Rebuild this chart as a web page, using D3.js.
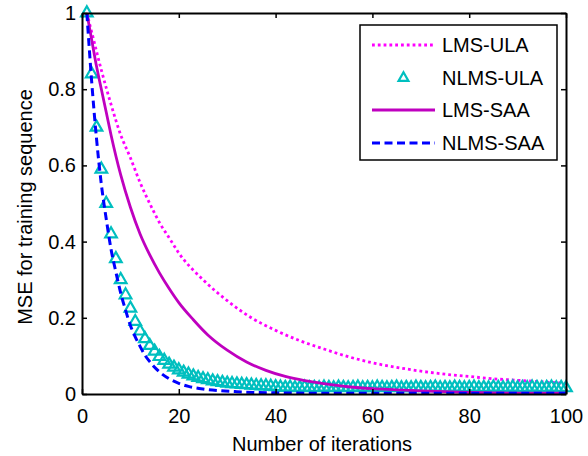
<!DOCTYPE html>
<html>
<head>
<meta charset="utf-8">
<script src="https://cdn.jsdelivr.net/npm/d3@7"></script>
<style>
  body { margin: 0; background: #fff; }
  svg { display: block; font-family: Arial, "Liberation Sans", sans-serif; }
</style>
</head>
<body>
<svg id="chart" width="588" height="456"></svg>
<script>
// LMS-ULA (read at sample iterations)
const lmsUlaIter = [1, 2, 4, 6, 8, 10, 12, 14, 16, 18, 20, 25, 30, 35, 40, 45, 50, 55, 60, 65, 70, 75, 80, 85, 90, 95, 100];
const lmsUla = [1.0, 0.95, 0.85, 0.76, 0.68, 0.62, 0.555, 0.5, 0.45, 0.41, 0.37, 0.3, 0.245, 0.2, 0.167, 0.14, 0.118, 0.098, 0.082, 0.07, 0.06, 0.052, 0.046, 0.04, 0.036, 0.032, 0.028];

// LMS-SAA
const lmsSaaIter = [1, 2, 3, 4, 5, 6, 8, 10, 12, 14, 16, 18, 20, 23, 26, 30, 34, 38, 42, 46, 50, 55, 60, 65, 70, 75, 80, 85, 90, 100];
const lmsSaa = [1.0, 0.93, 0.86, 0.8, 0.74, 0.68, 0.575, 0.49, 0.42, 0.365, 0.318, 0.277, 0.24, 0.195, 0.155, 0.115, 0.084, 0.062, 0.046, 0.035, 0.027, 0.019, 0.014, 0.011, 0.008, 0.006, 0.004, 0.003, 0.002, 0.002];

// NLMS-SAA
const nlmsSaaIter = [1, 2, 3, 4, 5, 6, 7, 8, 9, 10, 11, 12, 13, 14, 15, 16, 18, 20, 22, 25, 28, 32, 36, 40, 50, 60, 70, 80, 90, 100];
const nlmsSaa = [1.0, 0.82, 0.67, 0.55, 0.46, 0.38, 0.32, 0.265, 0.22, 0.18, 0.15, 0.125, 0.102, 0.085, 0.07, 0.058, 0.04, 0.028, 0.02, 0.013, 0.009, 0.006, 0.004, 0.003, 0.002, 0.002, 0.002, 0.002, 0.002, 0.002];

// NLMS-ULA, one marker per iteration 1..100
const nlmsUla = [
  1.0, 0.84, 0.70, 0.59, 0.50, 0.42, 0.355, 0.30, 0.26, 0.225,
  0.19, 0.165, 0.145, 0.127, 0.112, 0.098, 0.088, 0.078, 0.07, 0.063,
  0.057, 0.052, 0.047, 0.043, 0.04, 0.037, 0.034, 0.032, 0.03, 0.028,
  0.027, 0.026, 0.025, 0.024, 0.023, 0.022, 0.021, 0.021, 0.02, 0.019,
  0.018, 0.017, 0.018, 0.016, 0.017, 0.018, 0.016, 0.017, 0.016, 0.018,
  0.017, 0.016, 0.018, 0.017, 0.016, 0.017, 0.018, 0.016, 0.017, 0.016,
  0.018, 0.017, 0.016, 0.017, 0.018, 0.016, 0.017, 0.016, 0.018, 0.017,
  0.016, 0.017, 0.018, 0.016, 0.017, 0.016, 0.018, 0.017, 0.016, 0.017,
  0.018, 0.016, 0.017, 0.016, 0.018, 0.017, 0.016, 0.017, 0.018, 0.016,
  0.017, 0.016, 0.018, 0.017, 0.016, 0.017, 0.018, 0.016, 0.017, 0.016
];

const xTicks = [0, 20, 40, 60, 80, 100];
const yTicks = [0, 0.2, 0.4, 0.6, 0.8, 1];
const legendNames = ["LMS-ULA", "NLMS-ULA", "LMS-SAA", "NLMS-SAA"];

const margin = { top: 13, right: 22, bottom: 62, left: 82 };
const width = 588, height = 456;

const svg = d3.select("#chart");

const x = d3.scaleLinear().domain([0, 100]).range([margin.left, width - margin.right]);
const y = d3.scaleLinear().domain([0, 1]).range([height - margin.bottom, margin.top]);

const fontSize = "20px";
const triSize = 58;

// lines
const line = d3.line()
  .x(d => x(d[0]))
  .y(d => y(d[1]))
  .curve(d3.curveMonotoneX);

const plot = svg.append("g");

plot.append("path")
  .datum(lmsUlaIter.map((n, i) => [n, lmsUla[i]]))
  .attr("fill", "none")
  .attr("stroke", "#ff00ff")
  .attr("stroke-width", 2.8)
  .attr("stroke-dasharray", "2.8,3")
  .attr("d", line);

plot.selectAll(".tri")
  .data(nlmsUla)
  .enter().append("path")
  .attr("class", "tri")
  .attr("transform", (d, i) => `translate(${x(i + 1)},${y(d)})`)
  .attr("d", d3.symbol(d3.symbolTriangle, triSize))
  .attr("fill", "none")
  .attr("stroke", "#00bfbf")
  .attr("stroke-width", 2.2);

plot.append("path")
  .datum(lmsSaaIter.map((n, i) => [n, lmsSaa[i]]))
  .attr("fill", "none")
  .attr("stroke", "#bf00bf")
  .attr("stroke-width", 2.8)
  .attr("d", line);

plot.append("path")
  .datum(nlmsSaaIter.map((n, i) => [n, nlmsSaa[i]]))
  .attr("fill", "none")
  .attr("stroke", "#0000ff")
  .attr("stroke-width", 3)
  .attr("stroke-dasharray", "8,4.5")
  .attr("d", line);

// axes
function styleAxis(g) {
  g.select(".domain").attr("stroke", "#000").attr("stroke-width", 2);
  g.selectAll(".tick line").attr("stroke", "#000").attr("stroke-width", 1.5);
  g.selectAll(".tick text").attr("fill", "#000").style("font-size", fontSize);
}

svg.append("g")
  .attr("transform", `translate(0,${y(0)})`)
  .call(d3.axisBottom(x).tickValues(xTicks).tickSizeInner(-5).tickSizeOuter(0).tickPadding(15).tickFormat(d3.format("d")))
  .call(styleAxis);

svg.append("g")
  .attr("transform", `translate(0,${y(1)})`)
  .call(d3.axisTop(x).tickValues(xTicks).tickSizeInner(-5).tickSizeOuter(0).tickFormat(""))
  .call(styleAxis);

svg.append("g")
  .attr("transform", `translate(${x(0)},0)`)
  .call(d3.axisLeft(y).tickValues(yTicks).tickSizeInner(-5).tickSizeOuter(0).tickPadding(6).tickFormat(d => d === 0 || d === 1 ? d3.format("d")(d) : d3.format(".1f")(d)))
  .call(styleAxis);

svg.append("g")
  .attr("transform", `translate(${x(100)},0)`)
  .call(d3.axisRight(y).tickValues(yTicks).tickSizeInner(-5).tickSizeOuter(0).tickFormat(""))
  .call(styleAxis);

svg.selectAll(".domain").attr("fill", "none");

// axis titles
svg.append("text")
  .attr("x", 322)
  .attr("y", 451)
  .attr("text-anchor", "middle")
  .style("font-size", fontSize)
  .text("Number of iterations");

svg.append("text")
  .attr("transform", "translate(32,207) rotate(-90)")
  .attr("text-anchor", "middle")
  .style("font-size", fontSize)
  .text("MSE for training sequence");

// legend
const legend = svg.append("g");
legend.append("rect")
  .attr("x", 360).attr("y", 25)
  .attr("width", 197).attr("height", 135)
  .attr("fill", "#fff")
  .attr("stroke", "#000")
  .attr("stroke-width", 1.5);

const rowY = [45, 78, 110, 143];
const lx0 = 372, lx1 = 435;

legend.append("line")
  .attr("x1", lx0).attr("x2", lx1).attr("y1", rowY[0]).attr("y2", rowY[0])
  .attr("stroke", "#ff00ff").attr("stroke-width", 2.8).attr("stroke-dasharray", "2.8,3");

legend.append("path")
  .attr("transform", `translate(${(lx0 + lx1) / 2},${rowY[1]})`)
  .attr("d", d3.symbol(d3.symbolTriangle, 42))
  .attr("fill", "none")
  .attr("stroke", "#00bfbf")
  .attr("stroke-width", 2.2);

legend.append("line")
  .attr("x1", lx0).attr("x2", lx1).attr("y1", rowY[2]).attr("y2", rowY[2])
  .attr("stroke", "#bf00bf").attr("stroke-width", 2.8);

legend.append("line")
  .attr("x1", lx0).attr("x2", lx1).attr("y1", rowY[3]).attr("y2", rowY[3])
  .attr("stroke", "#0000ff").attr("stroke-width", 3).attr("stroke-dasharray", "8,4.5");

legend.selectAll(".ltext")
  .data(legendNames)
  .enter().append("text")
  .attr("class", "ltext")
  .attr("x", 442)
  .attr("y", (d, i) => rowY[i])
  .attr("dy", "0.35em")
  .style("font-size", fontSize)
  .text(d => d);
</script>
</body>
</html>
